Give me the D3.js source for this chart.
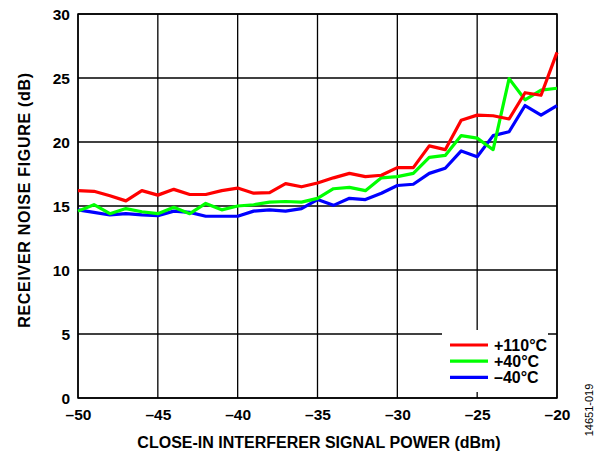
<!DOCTYPE html>
<html>
<head>
<meta charset="utf-8">
<script src="https://cdn.jsdelivr.net/npm/d3@7"></script>
<style>
  html, body { margin: 0; padding: 0; background: #fff; }
  svg { display: block; }
  text { font-family: "Liberation Sans", Arial, sans-serif; font-weight: bold; fill: #000; }
  text.fignum { font-weight: normal; }
</style>
</head>
<body>
<svg id="chart" width="596" height="451"></svg>
<script>
// Interferer power (dBm), 1 dB steps
const powerDbm = d3.range(-50, -19, 1);

// Receiver noise figure (dB) per temperature
const nf110 = [16.2, 16.15, 15.8, 15.4, 16.2, 15.85, 16.3, 15.9, 15.9, 16.2, 16.4,
               16.0, 16.05, 16.75, 16.5, 16.8, 17.2, 17.55, 17.3, 17.4, 18.0,
               18.0, 19.7, 19.4, 21.7, 22.1, 22.05, 21.8, 23.85, 23.65, 27.0];
const nf40 = [14.6, 15.1, 14.4, 14.8, 14.55, 14.4, 14.9, 14.4, 15.2, 14.7, 15.0,
              15.1, 15.3, 15.35, 15.3, 15.6, 16.35, 16.45, 16.2, 17.2, 17.3,
              17.55, 18.8, 18.95, 20.5, 20.3, 19.4, 24.95, 23.3, 24.05, 24.2];
const nfm40 = [14.7, 14.5, 14.3, 14.4, 14.3, 14.25, 14.6, 14.5, 14.2, 14.2, 14.2,
               14.6, 14.7, 14.6, 14.8, 15.5, 15.05, 15.6, 15.5, 16.0, 16.6,
               16.7, 17.55, 17.95, 19.3, 18.85, 20.5, 20.8, 22.85, 22.1, 22.85];

const seriesNames = ["+110°C", "+40°C", "\u201340°C"];
const seriesColors = ["#ff0000", "#00ff00", "#0000ff"];
const seriesValues = [nf110, nf40, nfm40];

const xTicks = [-50, -45, -40, -35, -30, -25, -20];
const yTicks = [0, 5, 10, 15, 20, 25, 30];

const fmt = v => (v < 0 ? "\u2013" + Math.abs(v) : String(v));

const svg = d3.select("#chart");
const plotL = 78, plotR = 557, plotT = 14, plotB = 398;

const x = d3.scaleLinear().domain([-50, -20]).range([plotL, plotR]);
const y = d3.scaleLinear().domain([0, 30]).range([plotB, plotT]);

// grid
const grid = svg.append("g").attr("stroke", "#000").attr("stroke-width", 1.3);
grid.selectAll("line.v").data(xTicks).join("line")
  .attr("x1", d => x(d)).attr("x2", d => x(d))
  .attr("y1", plotT).attr("y2", plotB);
grid.selectAll("line.h").data(yTicks).join("line")
  .attr("x1", plotL).attr("x2", plotR)
  .attr("y1", d => y(d)).attr("y2", d => y(d));

// tick labels
const xAxis = svg.append("g").attr("transform", `translate(0,${plotB})`)
  .call(d3.axisBottom(x).tickValues(xTicks).tickFormat(fmt).tickSize(0).tickPadding(0));
xAxis.select(".domain").remove();
xAxis.selectAll("text")
  .attr("font-size", 15.5).attr("font-family", "Liberation Sans, Arial, sans-serif").attr("font-weight", "bold")
  .attr("dy", null).attr("y", 22);

const yAxis = svg.append("g").attr("transform", `translate(${plotL},0)`)
  .call(d3.axisLeft(y).tickValues(yTicks).tickFormat(fmt).tickSize(0).tickPadding(0));
yAxis.select(".domain").remove();
yAxis.selectAll("text")
  .attr("font-size", 15.5).attr("font-family", "Liberation Sans, Arial, sans-serif").attr("font-weight", "bold")
  .attr("dy", null).attr("x", -8).attr("y", 5.5);

// plot border
svg.append("rect").attr("x", plotL).attr("y", plotT)
  .attr("width", plotR - plotL).attr("height", plotB - plotT)
  .attr("fill", "none").attr("stroke", "#000").attr("stroke-width", 1.5);

// legend background (covers grid)
const legX = 442, legY = 330;
svg.append("rect").attr("x", legX).attr("y", legY).attr("width", 106).attr("height", 62)
  .attr("fill", "#fff");

// series lines, drawn from coolest to hottest
const line = d3.line().x((d, i) => x(powerDbm[i])).y(d => y(d));
[2, 1, 0].forEach(k => {
  svg.append("path").datum(seriesValues[k])
    .attr("d", line)
    .attr("fill", "none")
    .attr("stroke", seriesColors[k])
    .attr("stroke-width", 3.2)
    .attr("stroke-linejoin", "round");
});

// legend entries
const leg = svg.append("g");
seriesNames.forEach((name, i) => {
  const ly = 345 + i * 16.2;
  leg.append("line").attr("x1", 450).attr("x2", 488).attr("y1", ly).attr("y2", ly)
    .attr("stroke", seriesColors[i]).attr("stroke-width", 3.2);
  leg.append("text").attr("x", 494).attr("y", ly + 5.5).attr("font-size", 16).text(name);
});

// axis titles
svg.append("text").attr("x", 319).attr("y", 448)
  .attr("text-anchor", "middle").attr("font-size", 16)
  .text("CLOSE-IN INTERFERER SIGNAL POWER (dBm)");
svg.append("text").attr("transform", "translate(30,200) rotate(-90)")
  .attr("text-anchor", "middle").attr("font-size", 16).attr("letter-spacing", 0.7)
  .text("RECEIVER NOISE FIGURE (dB)");

// figure number
svg.append("text").attr("class", "fignum")
  .attr("transform", "translate(593,410) rotate(-90)")
  .attr("text-anchor", "middle").attr("font-size", 11)
  .text("14651-019");
</script>
</body>
</html>
